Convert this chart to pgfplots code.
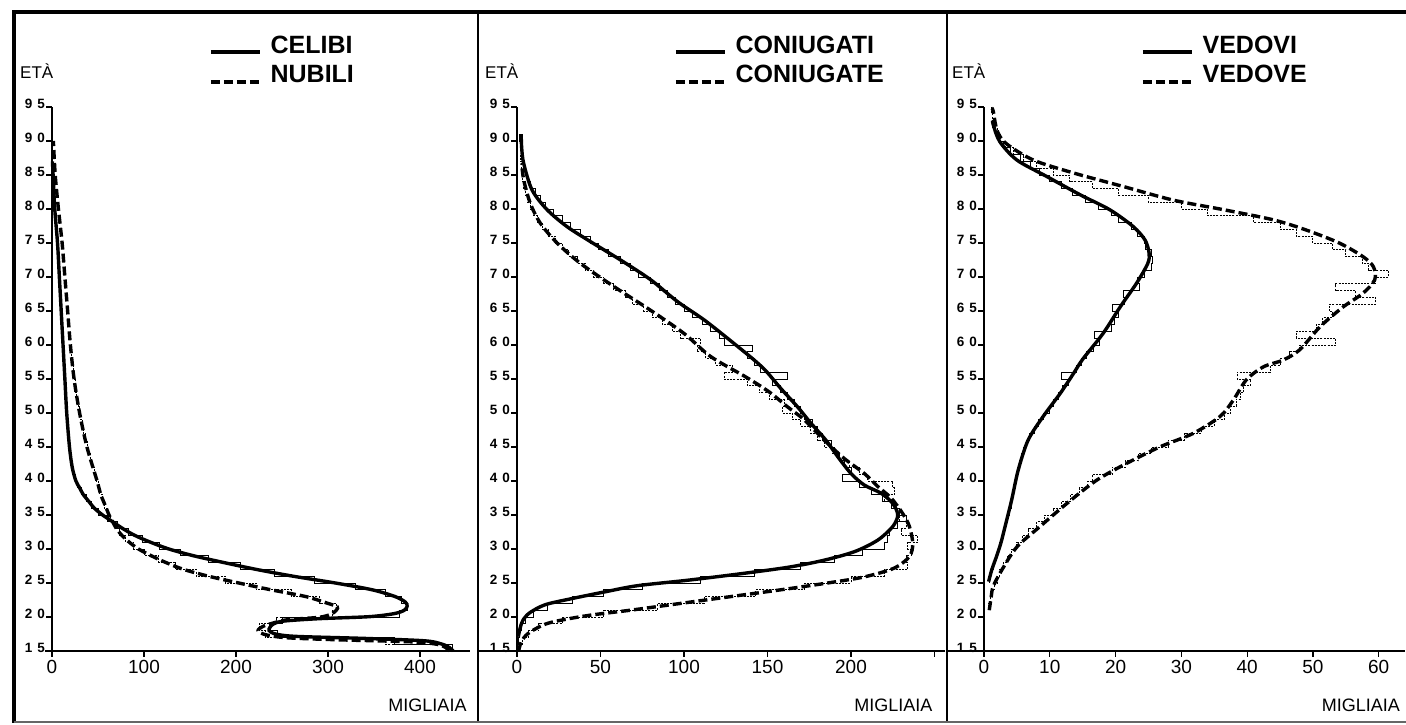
\documentclass[border=0pt]{standalone}
\usepackage{fontspec}
\setmainfont{Liberation Sans}
\newfontfamily\legfont{Liberation Sans}
\usepackage{pgfplots}
\usepackage{pgfplotstable}
\pgfplotsset{compat=1.18}

% histogram values, thousands per single year of age
\pgfplotstableread{
age cel nub
15 435 430
16 372 362
17 245 232
18 236 225
19 250 244
20 378 305
21 386 309
22 380 291
23 362 260
24 330 222
25 285 188
26 242 157
27 205 134
28 170 116
29 140 101
30 117 89
31 98 80
32 83 73
33 71 68
34 60 64
35 50 60
36 43 57
37 37 55
38 32 52
39 28 50
40 25 48
41 23 46
42 21 44
43 20 42
44 19 40
45 19 38
46 18 36
47 17.5 34
48 17 33
49 16.5 31
50 16 30
51 15.5 29
52 15 27
53 15 26
54 14.5 25
55 14 24
56 13.5 23
57 13 22
58 12.5 21
59 12 20
60 12 20
}\tabA

\pgfplotstableread{
age cgm cgf
15 0.3 1.5
16 0.8 3.5
17 1.5 7
18 2.5 13
19 5 27
20 10 52
21 18 84
22 33 112
23 52 143
24 75 172
25 110 200
26 142 220
27 170 234
28 190 233
29 207 236
30 220 234
31 222 240
32 223 230
33 228 233
34 233 229
35 229 227
36 224 224
37 219 220
38 212 226
39 205 225
40 195 210
41 200 205
42 196 199
43 193 193
44 190 189
45 188 184
46 183 180
47 180 176
48 177 170
49 172 165
50 170 159
51 166 160
52 162 151
53 158 145
54 153 138
55 162 124
56 146 129
57 142 119
58 138 113
59 141 108
60 124 110
61 121 98
62 116 93
63 111 87
64 105 81
65 100 76
66 95 69
67 90 65
68 85 58
69 80 52
70 73 46
71 68 41
72 62 36
73 55 31
74 49 27
75 44 23
76 38 19
77 32 15
78 27 12
79 22 10
80 17 8
81 14 6.5
82 11 5
83 8 4
84 6 3.5
85 5 3
86 4 2.5
87 3 2
88 2.5 2
89 2 nan
90 1.5 nan
91 1.5 nan
}\tabB

\pgfplotstableread{
age vm vf
21 nan 0.7
22 nan 1.0
23 nan 1.3
24 nan 1.6
25 0.8 2.0
26 1.0 2.4
27 1.4 2.9
28 1.8 3.5
29 2.1 4.2
30 2.4 5.0
31 2.7 5.8
32 2.9 6.8
33 3.2 8.0
34 3.5 9.2
35 3.8 10.5
36 4.1 11.8
37 4.3 13.2
38 4.5 14.5
39 4.7 15.8
40 4.9 16.5
41 5.1 19.5
42 5.4 21.5
43 5.7 23.5
44 6.0 25.5
45 6.4 28.0
46 6.9 30.5
47 7.6 33.0
48 8.3 35.0
49 9.1 36.5
50 9.9 37.5
51 10.6 38.3
52 11.3 39.0
53 12.0 39.5
54 12.8 40.5
55 11.8 38.5
56 14.0 43.5
57 14.8 45.0
58 15.6 46.5
59 16.6 48.0
60 17.6 53.5
61 16.8 47.5
62 19.3 50.5
63 19.8 51.5
64 20.4 53.0
65 19.6 52.5
66 21.4 59.5
67 21.2 56.5
68 23.6 53.5
69 23.4 59.5
70 24.4 61.5
71 25.4 58.5
72 25.6 57.5
73 25.4 55.0
74 24.6 53.0
75 24.4 50.0
76 23.4 47.5
77 22.4 45.0
78 20.4 41.0
79 19.4 34.0
80 17.4 30.0
81 15.4 25.0
82 13.4 20.5
83 11.8 16.5
84 10.0 13.0
85 8.5 10.5
86 7.0 8.0
87 5.5 6.0
88 4.0 4.5
89 3.0 3.2
90 2.2 2.5
91 1.7 2.0
92 1.3 1.6
93 1.3 1.3
94 nan 1.1
95 nan 1.1
}\tabC

% spaced bold age labels
\newcommand\yl[2]{{\bfseries\fontsize{13.5}{13.5}\selectfont #1\hspace{5pt}#2}}

\pgfplotsset{
  panel/.style={
    scale only axis, height=544pt,
    ymin=15, ymax=95,
    axis x line*=bottom, axis y line*=left,
    axis line style={line width=1.4pt},
    tick align=outside, major tick length=6pt,
    tick style={line width=1.2pt, black},
    ytick={15,20,...,95},
    yticklabels={\yl15,\yl20,\yl25,\yl30,\yl35,\yl40,\yl45,\yl50,\yl55,\yl60,\yl65,\yl70,\yl75,\yl80,\yl85,\yl90,\yl95},
    yticklabel style={anchor=base east, inner sep=0pt, xshift=-1pt, yshift=-1.5pt},
    xticklabel style={font=\fontsize{19}{19}\selectfont},
    /pgf/number format/assume math mode=true,
    unbounded coords=discard,
    clip=false,
    legend style={at={(rel axis cs:0,1)}, anchor=north west, xshift=157pt, yshift=72pt,
      draw=none, fill=none, inner sep=0pt,
      font=\legfont\bfseries\fontsize{25}{25}\selectfont,
      row sep=11pt, column sep=9pt,
      nodes={inner sep=0pt, text height=18pt, text depth=0pt}},
    legend cell align=left,
    legend image code/.code={\draw[##1] (0pt,-8pt) -- (49pt,-8pt);},
    every axis y label/.style={at={(rel axis cs:0,1)}, anchor=base west, inner sep=0pt, xshift=-32pt, yshift=28pt},
    every axis x label/.style={at={(rel axis cs:1,0)}, anchor=base east, inner sep=0pt, yshift=-61pt},
    ylabel={\fontsize{17}{17}\selectfont ETÀ},
    xlabel={\fontsize{18}{18}\selectfont MIGLIAIA},
  },
  curve/.style={black, line width=3.4pt, smooth, tension=0.5},
  dcurve/.style={curve, dash pattern=on 9pt off 4pt},
  hist/.style={black, line width=0.9pt, const plot mark right, forget plot},
  dhist/.style={hist, dash pattern=on 2pt off 1.2pt},
}

\begin{document}
\begin{tikzpicture}
\useasboundingbox (0pt,0pt) rectangle (1406pt,725pt);

% frame
\draw[line width=4pt] (14pt,2pt) -- (14pt,713pt) -- (1406pt,713pt);
\draw[line width=2pt] (478pt,3pt) -- (478pt,713pt);
\draw[line width=2pt] (947pt,3pt) -- (947pt,713pt);
\draw[line width=1.5pt, black!60] (14pt,3pt) -- (1406pt,3pt);
\draw[line width=1.4pt] (45pt,74pt) -- (52pt,74pt);
\draw[line width=1.4pt] (478pt,74pt) -- (517pt,74pt);
\draw[line width=1.4pt] (947pt,74pt) -- (984pt,74pt);

% CELIBI / NUBILI
\begin{axis}[panel, at={(52pt,74pt)}, anchor=south west,
  width=417.7pt, xmin=0, xmax=454, xtick={0,100,...,400},
  xlabel style={xshift=-3pt}]
\addplot[curve] coordinates {
 (436,15) (432,15.5) (424,16) (405,16.5) (340,16.85) (265,17.15) (243,17.5)
 (236,18) (237,18.5) (241,19) (252,19.4) (290,19.75) (345,20.05) (372,20.5)
 (383,21) (386,21.6) (384,22.2) (373,23) (348,24) (308,25) (262,26) (222,27)
 (187,28) (154,29) (127,30) (107,31) (90,32) (77,33) (66,34) (55,35) (46,36)
 (40,37) (34,38) (30,39) (26,40) (22,42) (19,45) (16,50) (14,55) (12,60)
 (10,65) (8,70) (6,75) (3,80) (1.2,85) (0.5,87)};
\addlegendentry{CELIBI}
\addplot[dcurve] coordinates {
 (432,15) (428,15.5) (418,16) (390,16.35) (310,16.65) (255,16.95) (232,17.4)
 (224,18) (229,18.6) (240,19.1) (256,19.6) (290,19.95) (303,20.4) (309,21)
 (310,21.5) (300,22) (276,23) (238,24) (203,25) (170,26) (143,27) (124,28)
 (108,29) (94,30) (84,31) (76,32) (70,33) (66,34) (62,35) (59,36) (56,37)
 (53,38) (49,40) (38,45) (30,50) (24,55) (20,60) (17,65) (14,70) (11,75)
 (7,80) (3.5,85) (1.5,90)};
\addlegendentry{NUBILI}
\addplot[hist] table[x=cel, y=age] {\tabA};
\addplot[dhist] table[x=nub, y=age] {\tabA};
\end{axis}

% CONIUGATI / CONIUGATE
\begin{axis}[panel, at={(517pt,74pt)}, anchor=south west,
  width=427.5pt, xmin=0, xmax=256, xtick={0,50,...,250},
  xticklabels={0,50,100,150,200,}, xlabel style={xshift=-12pt}]
\addplot[curve] coordinates {
 (0.8,17.1) (1.8,18.3) (3.5,19.5) (7.5,20.6) (16.8,21.8) (32.7,22.7)
 (52.7,23.7) (72,24.6) (102,25.4) (132,26.3) (162,27.3) (183,28.3)
 (202,29.6) (216,31.3) (225,33.3) (228,35) (225,36.7) (218,38.2) (208,39.4)
 (200,41.1) (192,43.6) (185,46) (176,48.5) (168,50.9) (158,53.6) (149,56.2)
 (141,58) (126,61) (112,63.7) (96,66.4) (80,69.6) (62,72.5) (44,75.2)
 (30,77.4) (18,79.9) (9,82.8) (4,86.7) (2.8,89) (2.5,91)};
\addlegendentry{CONIUGATI}
\addplot[dcurve] coordinates {
 (1,15) (2.5,16.3) (6.8,17.6) (18.8,19.1) (42,20.2) (68,21) (98,22)
 (128,23) (158,24) (186,25) (208,25.9) (226,27.2) (235,28.9) (237,30.8)
 (235,33.3) (231,35.2) (224,37.5) (216,39.2) (208,41.1) (196,43.3)
 (184,46) (172,49) (162,50.9) (151,53.1) (137,55.3) (116,58.3) (100,61.7)
 (80,65.1) (58,68.6) (38,72) (24,75) (14,77.9) (8,80.8) (4,84.3) (2.8,86.7)};
\addlegendentry{CONIUGATE}
\addplot[hist] table[x=cgm, y=age] {\tabB};
\addplot[dhist] table[x=cgf, y=age] {\tabB};
\end{axis}

% VEDOVI / VEDOVE
\begin{axis}[panel, at={(984pt,74pt)}, anchor=south west,
  width=421pt, xmin=0, xmax=64, xtick={0,10,...,60},
  xlabel style={xshift=-5pt}]
\addplot[curve] coordinates {
 (0.7,25.2) (1.2,27) (1.9,28.9) (2.6,31) (3.2,33.3) (4.2,37.2) (5.2,41.6)
 (6.7,46) (9,49.5) (11.6,52.9) (13.6,55.8) (15,57.9) (18.1,61.7) (20.7,65.6)
 (23.2,69.1) (24.9,72) (25.1,73.5) (24.5,75.4) (22.7,77.4) (19.1,79.9)
 (14.6,82.1) (9.5,84.8) (5,87.2) (2.4,89.9) (1.4,92.4) (1.3,93)};
\addlegendentry{VEDOVI}
\addplot[dcurve] coordinates {
 (0.8,21) (1.1,23) (1.4,24.5) (2.7,26.9) (5,30.3) (8.5,33.3) (12.6,36.7)
 (17.1,40.1) (21.7,42.6) (26.7,45) (31.8,47) (35.9,49.5) (37.9,51.9)
 (39.9,54.9) (42.5,56.8) (45.5,57.8) (48,59.3) (51.1,62.7) (54.6,65.6)
 (57.6,67.6) (59.4,69.6) (59.2,71.5) (57.6,73) (54,75) (49,76.9) (44,78.4)
 (36.4,79.9) (28.8,81.3) (21.2,83.3) (13.6,85.3) (7.5,87.2) (3.4,89.6)
 (2,91.5) (1.4,94.4) (1.2,94.8)};
\addlegendentry{VEDOVE}
\addplot[hist] table[x=vm, y=age] {\tabC};
\addplot[dhist] table[x=vf, y=age] {\tabC};
\end{axis}
\end{tikzpicture}
\end{document}
